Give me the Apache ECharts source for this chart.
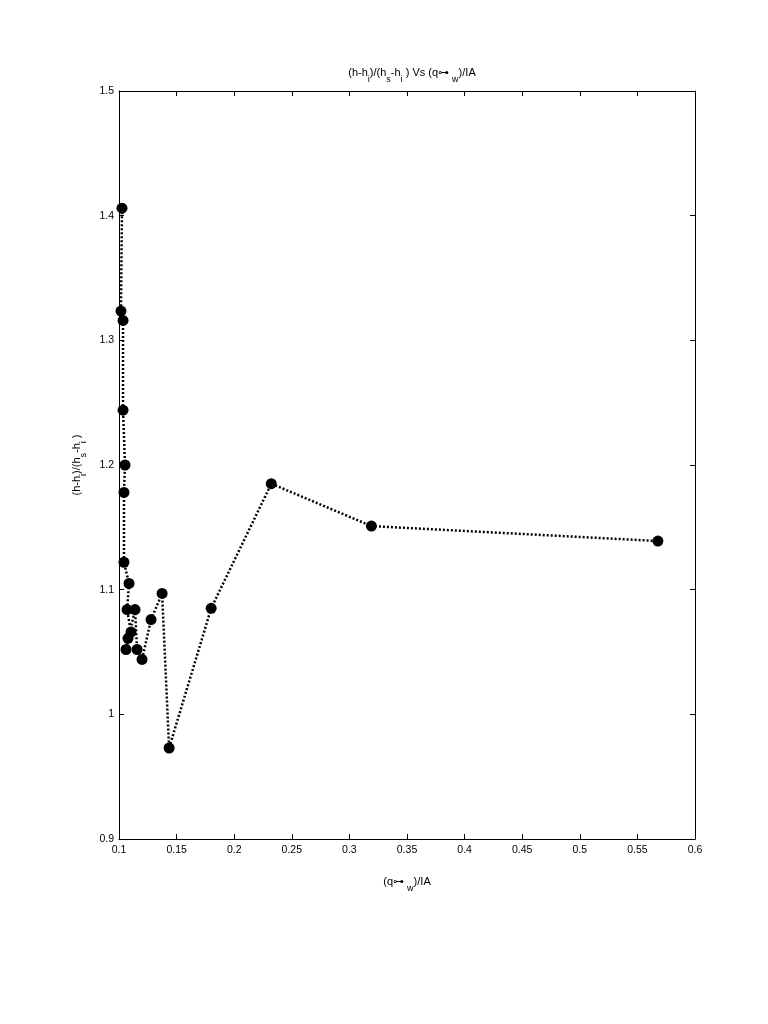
<!DOCTYPE html>
<html>
<head>
<meta charset="utf-8">
<script src="https://cdn.jsdelivr.net/npm/echarts@6/dist/echarts.min.js"></script>
<style>
  html, body { margin: 0; padding: 0; background: #fff; }
  #chart { width: 768px; height: 1024px; }
</style>
</head>
<body>
<div id="chart"></div>
<script>
// data, in the order the line joins them
var xVals = [0.1026, 0.1017, 0.1035, 0.1035, 0.1052, 0.1043, 0.1043, 0.1087, 0.1070, 0.1104,
             0.1078, 0.1061, 0.1139, 0.1157, 0.1200, 0.1278, 0.1374, 0.1435, 0.1800, 0.2322,
             0.3191, 0.5678];
var yVals = [1.406, 1.3235, 1.316, 1.244, 1.200, 1.178, 1.122, 1.105, 1.084, 1.066,
             1.061, 1.052, 1.084, 1.052, 1.044, 1.076, 1.097, 0.973, 1.085, 1.185,
             1.151, 1.139];
var xTicks = [0.1, 0.15, 0.2, 0.25, 0.3, 0.35, 0.4, 0.45, 0.5, 0.55, 0.6];
var yTicks = [0.9, 1, 1.1, 1.2, 1.3, 1.4, 1.5];

var points = xVals.map(function (x, i) { return [x, yVals[i]]; });

var font = 'Liberation Sans, Arial, sans-serif';
var sub = { fontSize: 9, verticalAlign: 'bottom', padding: [0, 0, -6, 0], fontFamily: font, color: '#000' };

var chart = echarts.init(document.getElementById('chart'));
var axisCommon = {
    axisLine: { show: true, lineStyle: { color: '#000', width: 1 } },
    axisTick: { show: true, inside: true, length: 5, lineStyle: { color: '#000' } },
    splitLine: { show: false }
};
chart.setOption({
    animation: false,
    backgroundColor: '#fff',
    title: {
        text: '(h-h{s|i})/(h{s|s}-h{s|i} ) Vs (q⊶ {s|w})/IA',
        left: 407, top: 62, textAlign: 'center',
        textStyle: {
            fontSize: 11, fontWeight: 'normal', color: '#000', fontFamily: font,
            rich: { s: sub }
        }
    },
    grid: { left: 119, right: 73, top: 91, bottom: 185 },
    xAxis: [
        Object.assign({
            type: 'value', min: 0.1, max: 0.6, interval: 0.05, position: 'bottom',
            name: '(q⊶ {s|w})/IA', nameLocation: 'middle', nameGap: 37,
            nameTextStyle: { fontSize: 11, color: '#000', fontFamily: font, rich: { s: sub } },
            axisLabel: {
                color: '#000', fontSize: 10.5, fontFamily: font, margin: 6,
                formatter: function (v) {
                    var t = xTicks.find(function (k) { return Math.abs(k - v) < 1e-6; });
                    return t === undefined ? '' : String(t);
                }
            }
        }, axisCommon),
        Object.assign({
            type: 'value', min: 0.1, max: 0.6, interval: 0.05, position: 'top',
            axisLabel: { show: false }
        }, axisCommon)
    ],
    yAxis: [
        Object.assign({
            type: 'value', min: 0.9, max: 1.5, interval: 0.1, position: 'left',
            name: '(h-h{s|i})/(h{s|s}-h{s|i} )', nameLocation: 'middle', nameGap: 28,
            nameTextStyle: { fontSize: 11, color: '#000', fontFamily: font, rich: { s: sub } },
            axisLabel: {
                color: '#000', fontSize: 10.5, fontFamily: font, margin: 5,
                formatter: function (v) {
                    var t = yTicks.find(function (k) { return Math.abs(k - v) < 1e-6; });
                    return t === undefined ? '' : String(t);
                }
            }
        }, axisCommon),
        Object.assign({
            type: 'value', min: 0.9, max: 1.5, interval: 0.1, position: 'right',
            axisLabel: { show: false }
        }, axisCommon)
    ],
    series: [{
        type: 'line',
        data: points,
        symbol: 'circle',
        symbolSize: 11,
        itemStyle: { color: '#000' },
        lineStyle: { color: '#000', width: 2.5, type: [2, 2] }
    }]
});
</script>
</body>
</html>
